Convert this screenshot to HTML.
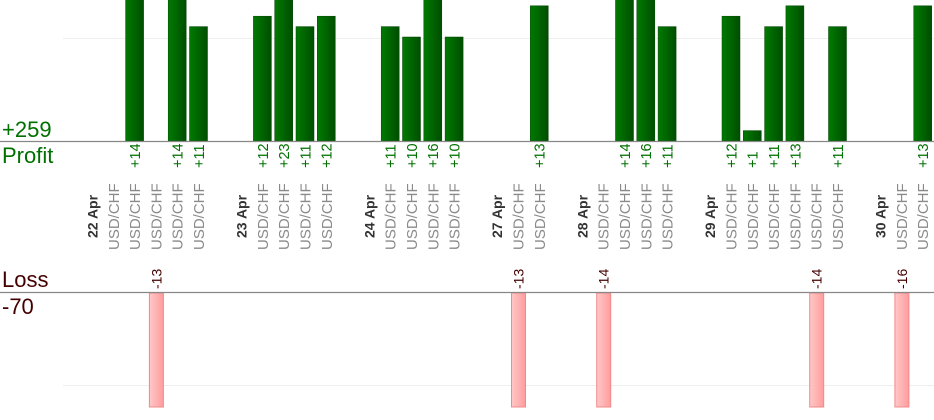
<!DOCTYPE html>
<html><head><meta charset="utf-8"><style>
html,body{margin:0;padding:0;background:#fff;width:934px;height:420px;overflow:hidden}
svg{display:block}
text{font-family:"Liberation Sans",sans-serif}
.v{fill:#007000;font-size:14.5px}
.s{fill:#8a8a8a;font-size:15px}
.d{fill:#333;font-size:14px;font-weight:bold}
.l{fill:#400;font-size:14px}
</style></head><body>
<svg width="934" height="420" viewBox="0 0 934 420">
<defs>
<linearGradient id="g" x1="0" x2="1" y1="0" y2="0"><stop offset="0" stop-color="#007a00"/><stop offset="1" stop-color="#004e00"/></linearGradient>
<linearGradient id="r" x1="0" x2="1" y1="0" y2="0"><stop offset="0" stop-color="#ffc8c8"/><stop offset="1" stop-color="#ff9c9c"/></linearGradient>
</defs>
<line x1="63" y1="38.5" x2="934" y2="38.5" stroke="#eee"/>
<line x1="63" y1="385.5" x2="934" y2="385.5" stroke="#eee"/>
<g fill="url(#g)" stroke="#004400" stroke-width="0.5">
<rect x="125.6" y="-5" width="18" height="146"/>
<rect x="168.2" y="-5" width="18" height="146"/>
<rect x="189.5" y="26.6" width="18" height="114.4"/>
<rect x="253.4" y="16.2" width="18" height="124.8"/>
<rect x="274.7" y="-5" width="18" height="146"/>
<rect x="296" y="26.6" width="18" height="114.4"/>
<rect x="317.3" y="16.2" width="18" height="124.8"/>
<rect x="381.2" y="26.6" width="18" height="114.4"/>
<rect x="402.5" y="37" width="18" height="104"/>
<rect x="423.8" y="-5" width="18" height="146"/>
<rect x="445.1" y="37" width="18" height="104"/>
<rect x="530.3" y="5.8" width="18" height="135.2"/>
<rect x="615.5" y="-5" width="18" height="146"/>
<rect x="636.8" y="-5" width="18" height="146"/>
<rect x="658.1" y="26.6" width="18" height="114.4"/>
<rect x="722" y="16.2" width="18" height="124.8"/>
<rect x="743.3" y="130.6" width="18" height="10.4"/>
<rect x="764.6" y="26.6" width="18" height="114.4"/>
<rect x="785.9" y="5.8" width="18" height="135.2"/>
<rect x="828.5" y="26.6" width="18" height="114.4"/>
<rect x="913.7" y="5.8" width="18" height="135.2"/>
</g>
<g fill="url(#r)" stroke="#f08a8a" stroke-width="1">
<rect x="149.4" y="293" width="14" height="114"/>
<rect x="511.5" y="293" width="14" height="114"/>
<rect x="596.7" y="293" width="14" height="114"/>
<rect x="809.7" y="293" width="14" height="114"/>
<rect x="894.9" y="293" width="14" height="114"/>
</g>
<line x1="0" y1="141.5" x2="934" y2="141.5" stroke="#888" stroke-width="1.2"/>
<line x1="0" y1="292.5" x2="934" y2="292.5" stroke="#888" stroke-width="1.2"/>
<text x="2" y="137" fill="#007000" font-size="22">+259</text>
<text x="2" y="163" fill="#007000" font-size="22">Profit</text>
<text x="2" y="287" fill="#400" font-size="22">Loss</text>
<text x="2" y="314" fill="#400" font-size="22">-70</text>
<g class="v">
<text transform="translate(140,168) rotate(-90)">+14</text>
<text transform="translate(182.6,168) rotate(-90)">+14</text>
<text transform="translate(203.9,168) rotate(-90)">+11</text>
<text transform="translate(267.8,168) rotate(-90)">+12</text>
<text transform="translate(289.1,168) rotate(-90)">+23</text>
<text transform="translate(310.4,168) rotate(-90)">+11</text>
<text transform="translate(331.7,168) rotate(-90)">+12</text>
<text transform="translate(395.6,168) rotate(-90)">+11</text>
<text transform="translate(416.9,168) rotate(-90)">+10</text>
<text transform="translate(438.2,168) rotate(-90)">+16</text>
<text transform="translate(459.5,168) rotate(-90)">+10</text>
<text transform="translate(544.7,168) rotate(-90)">+13</text>
<text transform="translate(629.9,168) rotate(-90)">+14</text>
<text transform="translate(651.2,168) rotate(-90)">+16</text>
<text transform="translate(672.5,168) rotate(-90)">+11</text>
<text transform="translate(736.4,168) rotate(-90)">+12</text>
<text transform="translate(757.7,168) rotate(-90)">+1</text>
<text transform="translate(779,168) rotate(-90)">+11</text>
<text transform="translate(800.3,168) rotate(-90)">+13</text>
<text transform="translate(842.9,168) rotate(-90)">+11</text>
<text transform="translate(928.1,168) rotate(-90)">+13</text>
</g>
<g class="l">
<text transform="translate(161.3,289) rotate(-90)">-13</text>
<text transform="translate(523.4,289) rotate(-90)">-13</text>
<text transform="translate(608.6,289) rotate(-90)">-14</text>
<text transform="translate(821.6,289) rotate(-90)">-14</text>
<text transform="translate(906.8,289) rotate(-90)">-16</text>
</g>
<g class="d">
<text transform="translate(97.5,238) rotate(-90)">22 Apr</text>
<text transform="translate(246.6,238) rotate(-90)">23 Apr</text>
<text transform="translate(374.4,238) rotate(-90)">24 Apr</text>
<text transform="translate(502.2,238) rotate(-90)">27 Apr</text>
<text transform="translate(587.4,238) rotate(-90)">28 Apr</text>
<text transform="translate(715.2,238) rotate(-90)">29 Apr</text>
<text transform="translate(885.6,238) rotate(-90)">30 Apr</text>
</g>
<g class="s">
<text transform="translate(118.8,250) rotate(-90)">USD/CHF</text>
<text transform="translate(140.1,250) rotate(-90)">USD/CHF</text>
<text transform="translate(161.4,250) rotate(-90)">USD/CHF</text>
<text transform="translate(182.7,250) rotate(-90)">USD/CHF</text>
<text transform="translate(204,250) rotate(-90)">USD/CHF</text>
<text transform="translate(267.9,250) rotate(-90)">USD/CHF</text>
<text transform="translate(289.2,250) rotate(-90)">USD/CHF</text>
<text transform="translate(310.5,250) rotate(-90)">USD/CHF</text>
<text transform="translate(331.8,250) rotate(-90)">USD/CHF</text>
<text transform="translate(395.7,250) rotate(-90)">USD/CHF</text>
<text transform="translate(417,250) rotate(-90)">USD/CHF</text>
<text transform="translate(438.3,250) rotate(-90)">USD/CHF</text>
<text transform="translate(459.6,250) rotate(-90)">USD/CHF</text>
<text transform="translate(523.5,250) rotate(-90)">USD/CHF</text>
<text transform="translate(544.8,250) rotate(-90)">USD/CHF</text>
<text transform="translate(608.7,250) rotate(-90)">USD/CHF</text>
<text transform="translate(630,250) rotate(-90)">USD/CHF</text>
<text transform="translate(651.3,250) rotate(-90)">USD/CHF</text>
<text transform="translate(672.6,250) rotate(-90)">USD/CHF</text>
<text transform="translate(736.5,250) rotate(-90)">USD/CHF</text>
<text transform="translate(757.8,250) rotate(-90)">USD/CHF</text>
<text transform="translate(779.1,250) rotate(-90)">USD/CHF</text>
<text transform="translate(800.4,250) rotate(-90)">USD/CHF</text>
<text transform="translate(821.7,250) rotate(-90)">USD/CHF</text>
<text transform="translate(843,250) rotate(-90)">USD/CHF</text>
<text transform="translate(906.9,250) rotate(-90)">USD/CHF</text>
<text transform="translate(928.2,250) rotate(-90)">USD/CHF</text>
</g>
</svg>
</body></html>
